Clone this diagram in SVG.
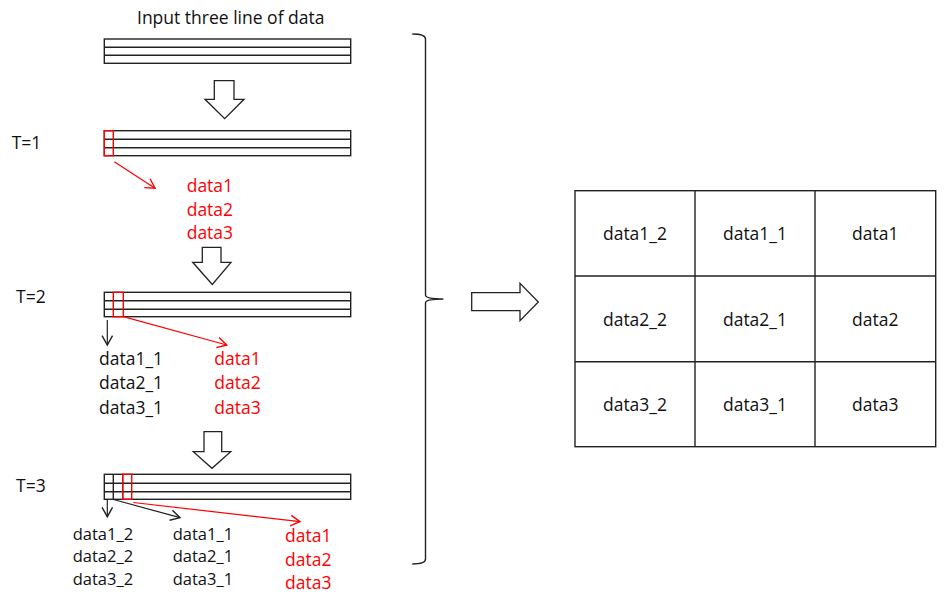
<svg xmlns="http://www.w3.org/2000/svg" width="945" height="600" viewBox="0 0 945 600">
<style>
text{font-family:"Open Sans","Liberation Sans",Arial,sans-serif;font-size:17.5px;fill:#111}
.r{fill:#ff0000}
.s{font-size:16.5px}
.bar{fill:#fff;stroke:#222;stroke-width:1.4}
.ln{stroke:#222;stroke-width:1.4;fill:none}
.rc{fill:none;stroke:#ff0000;stroke-width:1.4}
.blk{fill:#fff;stroke:#222;stroke-width:1.3;stroke-linejoin:miter}
.ca{fill:none;stroke:#222;stroke-width:1.2;marker-end:url(#mb)}
.cr{fill:none;stroke:#ff0000;stroke-width:1.2;marker-end:url(#mr)}
.tc{text-anchor:middle}
</style>
<defs>
<marker id="mb" markerUnits="userSpaceOnUse" markerWidth="14" markerHeight="14" viewBox="-10 -6 12 12" refX="0" refY="0" orient="auto"><path d="M-8,-4.5 L0,0 L-8,4.5" fill="none" stroke="#222" stroke-width="1.2"/></marker>
<marker id="mr" markerUnits="userSpaceOnUse" markerWidth="14" markerHeight="14" viewBox="-10 -6 12 12" refX="0" refY="0" orient="auto"><path d="M-8,-4.5 L0,0 L-8,4.5" fill="none" stroke="#ff0000" stroke-width="1.2"/></marker>
</defs>

<g id="title"><text x="137" y="23.5">Input three line of data</text></g>

<g id="bar0">
<rect class="bar" x="104.3" y="39" width="246.4" height="24.3"/>
<line class="ln" x1="104.3" y1="47.3" x2="350.7" y2="47.3"/>
<line class="ln" x1="104.3" y1="55.3" x2="350.7" y2="55.3"/>
</g>

<g id="down1"><polygon class="blk" points="214.3,80.7 234,80.7 234,99.3 244,99.3 224.7,118.7 205,99.3 214.3,99.3"/></g>

<g id="t1">
<text x="11.7" y="149">T=1</text>
<rect class="bar" x="104.3" y="130.7" width="246.4" height="25"/>
<line class="ln" x1="104.3" y1="139.3" x2="350.7" y2="139.3"/>
<line class="ln" x1="104.3" y1="147.7" x2="350.7" y2="147.7"/>
<rect class="rc" x="104.3" y="130.7" width="9" height="25"/>
</g>
<g id="t1data">
<text class="r" x="186.7" y="192.3">data1</text>
<text class="r" x="186.7" y="215.6">data2</text>
<text class="r" x="186.7" y="239">data3</text>
</g>

<g id="down2"><polygon class="blk" points="202.3,247.3 221,247.3 221,262.3 231,262.3 212.3,284.5 192.7,262.3 202.3,262.3"/></g>

<g id="t2">
<text x="16" y="302.5">T=2</text>
<rect class="bar" x="104.3" y="292.3" width="246.4" height="24.4"/>
<line class="ln" x1="104.3" y1="300.7" x2="350.7" y2="300.7"/>
<line class="ln" x1="104.3" y1="309.3" x2="350.7" y2="309.3"/>
<rect class="rc" x="113.3" y="292.3" width="10" height="24.4"/>
</g>
<g id="t2data">
<text x="99" y="365">data1_1</text>
<text x="99" y="389.3">data2_1</text>
<text x="99" y="413.5">data3_1</text>
<text class="r" x="214.3" y="365">data1</text>
<text class="r" x="214.3" y="389.3">data2</text>
<text class="r" x="214.3" y="413.5">data3</text>
</g>

<g id="down3"><polygon class="blk" points="204,431.7 221.7,431.7 221.7,451.7 230.7,451.7 212,468.3 193.3,451.7 204,451.7"/></g>

<g id="t3">
<text x="16" y="491.7">T=3</text>
<rect class="bar" x="104.3" y="474.3" width="246.4" height="25"/>
<line class="ln" x1="104.3" y1="483.3" x2="350.7" y2="483.3"/>
<line class="ln" x1="104.3" y1="491.7" x2="350.7" y2="491.7"/>
<line class="ln" x1="113.3" y1="474.3" x2="113.3" y2="499.3"/>
<line class="ln" x1="122.7" y1="474.3" x2="122.7" y2="499.3"/>
<rect class="rc" x="122.7" y="474.3" width="9" height="25"/>
</g>
<g id="t3data">
<text class="s" x="72.7" y="539.5">data1_2</text>
<text class="s" x="72.7" y="562">data2_2</text>
<text class="s" x="72.7" y="584.5">data3_2</text>
<text class="s" x="172.7" y="539.5">data1_1</text>
<text class="s" x="172.7" y="562">data2_1</text>
<text class="s" x="172.7" y="584.5">data3_1</text>
<text class="r" x="285" y="541.7">data1</text>
<text class="r" x="285" y="565.5">data2</text>
<text class="r" x="285" y="589">data3</text>
</g>

<g id="brace"><path class="ln" d="M412.3,34 Q425.5,34 425.5,39 L425.5,295 Q425.5,299 443.3,299 Q425.5,299 425.5,303 L425.5,559 Q425.5,564 412.3,564"/></g>

<g id="rightArrow"><polygon class="blk" points="471.7,292.7 520,292.7 520,283.3 538.3,302 520,320.7 520,310.7 471.7,310.7"/></g>

<g id="table">
<rect x="575" y="190.7" width="360.7" height="256" fill="#fff" stroke="#222" stroke-width="1.4"/>
<line class="ln" x1="695" y1="190.7" x2="695" y2="446.7"/>
<line class="ln" x1="815" y1="190.7" x2="815" y2="446.7"/>
<line class="ln" x1="575" y1="276" x2="935.7" y2="276"/>
<line class="ln" x1="575" y1="361.7" x2="935.7" y2="361.7"/>
<text class="tc" x="635" y="240">data1_2</text>
<text class="tc" x="755" y="240">data1_1</text>
<text class="tc" x="875.3" y="240">data1</text>
<text class="tc" x="635" y="325.5">data2_2</text>
<text class="tc" x="755" y="325.5">data2_1</text>
<text class="tc" x="875.3" y="325.5">data2</text>
<text class="tc" x="635" y="411">data3_2</text>
<text class="tc" x="755" y="411">data3_1</text>
<text class="tc" x="875.3" y="411">data3</text>
</g>

<g id="connectors">
<line class="cr" x1="114.3" y1="161.7" x2="155" y2="188.3"/>
<line class="ca" x1="107.3" y1="320" x2="107.3" y2="345"/>
<line class="cr" x1="123.3" y1="316.7" x2="226.7" y2="345"/>
<line class="ca" x1="107.3" y1="500" x2="107.3" y2="516.7"/>
<line class="ca" x1="113.5" y1="499.5" x2="180" y2="517.7"/>
<line class="cr" x1="133.3" y1="502.5" x2="300" y2="521.7"/>
</g>
</svg>
